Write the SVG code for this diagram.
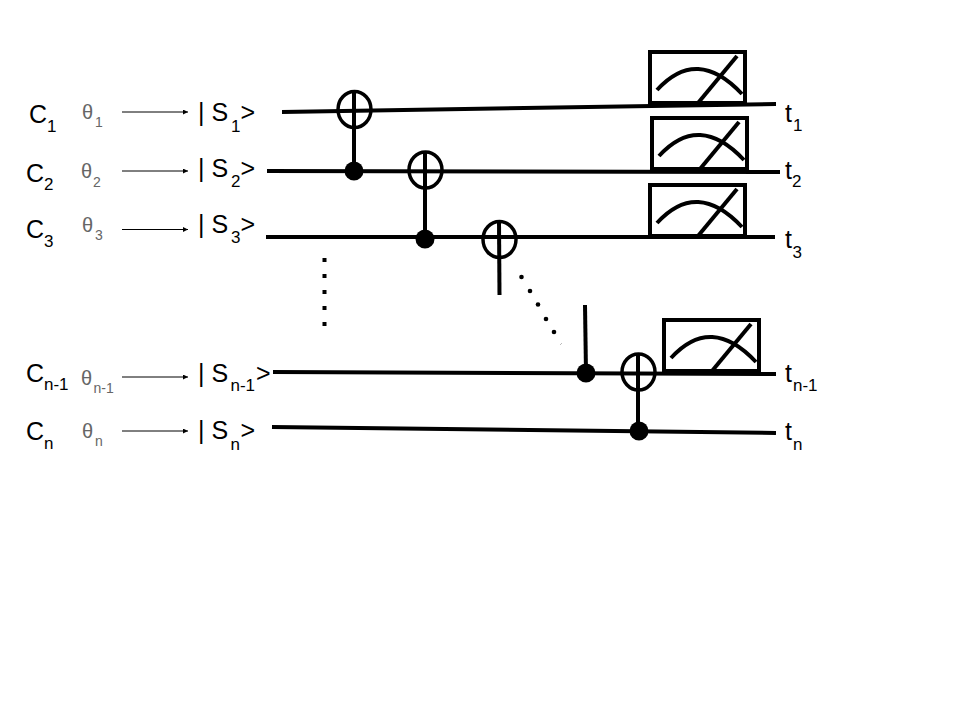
<svg xmlns="http://www.w3.org/2000/svg" width="960" height="720" viewBox="0 0 960 720">
<style>
text{font-family:"Liberation Sans",Arial,sans-serif;fill:#000}
.m{font-size:25px}.s{font-size:17px}
.th{font-size:20px;fill:#666}.ths{font-size:14px;fill:#666}
.w{stroke:#000;stroke-width:4;fill:none}
.v{stroke:#000;stroke-width:4;fill:none}
.x{stroke:#000;stroke-width:3.5;fill:none}
.a{stroke:#000;stroke-width:1;fill:none;marker-end:url(#h)}
.box{stroke:#000;stroke-width:4;fill:#fff}
.ar{stroke:#000;stroke-width:4;fill:none}
</style>
<defs>
<marker id="h" markerUnits="userSpaceOnUse" markerWidth="6" markerHeight="6" refX="5" refY="2.5" orient="auto"><path d="M0 0L5 2.500L0 5z" fill="#000"/></marker>
<g id="meter"><rect class="box" x="0" y="0" width="95" height="51"/><path class="ar" d="M7 38Q47 -6 92 42"/><path class="ar" d="M48 51L87 4"/></g>
</defs>
<g id="meters">
<use href="#meter" x="650" y="52"/><use href="#meter" x="652" y="118"/><use href="#meter" x="650" y="185"/><use href="#meter" x="664" y="320"/>
</g>
<g id="connectors">
<path class="w" d="M282 112L776 104"/><path class="w" d="M267 171L780 172"/><path class="w" d="M266 237L775 237"/><path class="w" d="M273 372L776 374"/><path class="w" d="M272 427L776 433"/>
<path class="v" d="M354 91V171"/><path class="v" d="M425 151V239"/><path class="v" d="M499 221L499.500 295"/><path class="v" d="M585 305L586 373"/><path class="v" d="M638 353V431"/>
<path class="a" d="M122 112H188"/><path class="a" d="M122 171H188"/><path class="a" d="M122 229.500H188"/><path class="a" d="M122 377H188"/><path class="a" d="M122 431H188"/>
</g>
<g id="gates">
<ellipse class="x" cx="354.500" cy="109.500" rx="16.500" ry="18"/><ellipse class="x" cx="425.500" cy="170" rx="16.500" ry="18"/><ellipse class="x" cx="499.500" cy="239.500" rx="16.500" ry="18"/><ellipse class="x" cx="638.500" cy="372" rx="16.500" ry="18"/>
<circle cx="354" cy="171" r="9.500"/><circle cx="425" cy="239" r="9.500"/><circle cx="586" cy="373" r="9.500"/><circle cx="639" cy="431" r="9.500"/>
</g>
<g id="dots">
<rect x="322.500" y="258" width="4" height="4"/><rect x="322.500" y="274" width="4" height="4"/><rect x="322.500" y="290" width="4" height="4"/><rect x="322.500" y="306" width="4" height="4"/><rect x="322.500" y="322" width="4" height="4"/>
<circle cx="521.500" cy="277" r="2.300"/><circle cx="530" cy="291" r="2.300"/><circle cx="538" cy="304.500" r="2.300"/><circle cx="546" cy="319" r="2.300"/><circle cx="554" cy="332" r="2.300"/><path d="M560 345L562 343" stroke="#bbb" stroke-width="1"/>
</g>
<g id="c-labels">
<text class="m" x="29" y="122.500">C</text><text class="s" x="47" y="132">1</text>
<text class="m" x="26" y="181.500">C</text><text class="s" x="44" y="190">2</text>
<text class="m" x="26" y="238">C</text><text class="s" x="44" y="247">3</text>
<text class="m" x="26" y="381.500">C</text><text class="s" x="44" y="390">n-1</text>
<text class="m" x="26" y="440">C</text><text class="s" x="44" y="449">n</text>
</g>
<g id="theta-labels">
<text class="th" x="82" y="119">θ</text><text class="ths" x="95" y="127">1</text>
<text class="th" x="81" y="178">θ</text><text class="ths" x="93" y="186.500">2</text>
<text class="th" x="82" y="232">θ</text><text class="ths" x="95" y="240">3</text>
<text class="th" x="81" y="385">θ</text><text class="ths" x="93.500" y="393">n-1</text>
<text class="th" x="82" y="438">θ</text><text class="ths" x="95" y="446">n</text>
</g>
<g id="s-labels">
<text class="m" x="198" y="121">| S</text><text class="s" x="231" y="131.500">1</text><text class="m" x="240.500" y="121">&gt;</text>
<text class="m" x="198" y="177">| S</text><text class="s" x="231" y="187">2</text><text class="m" x="240.500" y="177">&gt;</text>
<text class="m" x="198" y="233">| S</text><text class="s" x="231" y="242.500">3</text><text class="m" x="240.500" y="233">&gt;</text>
<text class="m" x="198" y="382">| S</text><text class="s" x="230.500" y="391">n-1</text><text class="m" x="256" y="382">&gt;</text>
<text class="m" x="198" y="439">| S</text><text class="s" x="230.500" y="449.500">n</text><text class="m" x="240.500" y="439">&gt;</text>
</g>
<g id="t-labels">
<text class="m" x="785" y="122">t</text><text class="s" x="793" y="131">1</text>
<text class="m" x="785" y="179">t</text><text class="s" x="792" y="187">2</text>
<text class="m" x="785" y="248">t</text><text class="s" x="792.500" y="258">3</text>
<text class="m" x="785" y="382">t</text><text class="s" x="793" y="391">n-1</text>
<text class="m" x="785" y="440">t</text><text class="s" x="793" y="450">n</text>
</g>
</svg>
